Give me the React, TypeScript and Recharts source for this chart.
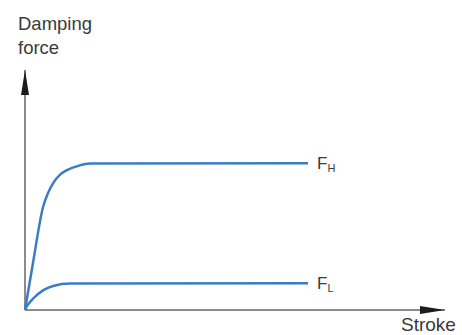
import { LineChart, Line, XAxis, YAxis, ReferenceLine, ReferenceDot, LabelList } from 'recharts';

// stroke (0-100) vs damping force (0-100)
const highStroke = [0, 1.9, 4.3, 5.5, 6.7, 8.3, 10.0, 12.6, 15.5, 67.4];
const highForce = [0, 19.6, 42.9, 48.8, 52.9, 56.3, 58.3, 60.0, 61.0, 61.1];
const lowStroke = [0, 0.5, 2.0, 4.4, 6.7, 10.7, 67.4];
const lowForce = [0, 1.7, 4.9, 8.3, 10.0, 11.0, 11.1];

const highData = highStroke.map((x, i) => ({ x, y: highForce[i] }));
const lowData = lowStroke.map((x, i) => ({ x, y: lowForce[i] }));

const FONT = '"Liberation Sans", Arial, sans-serif';
const TEXT = '#3a3a3a';
const BLUE = '#3b7cc2';
const AXIS = '#8c8c8c';

const endLabel = (sub: string, count: number) => (props: any) => {
    if (props.index !== count - 1) return null;
    return (
        <text x={props.x + 9} y={props.y + 6} fontFamily={FONT} fontSize={17} fill={TEXT}>
            F<tspan dy={3} fontSize={11}>{sub}</tspan>
        </text>
    );
};

const xArrow = (props: any) => {
    const { cx, cy } = props;
    return <polygon points={`${cx},${cy} ${cx - 25},${cy - 4} ${cx - 25},${cy + 4}`} fill="#1c1c1c" />;
};

const yArrow = (props: any) => {
    const { cx, cy } = props;
    return <polygon points={`${cx},${cy} ${cx - 4},${cy + 25} ${cx + 4},${cy + 25}`} fill="#1c1c1c" />;
};

export default function App() {
    return (
        <div style={{ position: 'absolute', left: 0, top: 0, width: 462, height: 335, background: '#fff', fontFamily: FONT, color: TEXT }}>
            <div style={{ position: 'absolute', left: 18, top: 12, fontSize: 18.5, lineHeight: '24px' }}>
                Damping<br />force
            </div>
            <div style={{ position: 'absolute', left: 401, top: 314, fontSize: 19, lineHeight: '22px' }}>
                Stroke
            </div>
            <LineChart width={462} height={335} margin={{ top: 70, right: 17, bottom: 25, left: 25 }}>
                <XAxis type="number" dataKey="x" domain={[0, 100]} hide />
                <YAxis type="number" dataKey="y" domain={[0, 100]} hide />
                <ReferenceLine y={0} stroke={AXIS} strokeWidth={2} />
                <ReferenceLine x={0} stroke={AXIS} strokeWidth={2} />
                <ReferenceDot x={100} y={0} r={0} shape={xArrow} ifOverflow="visible" />
                <ReferenceDot x={0} y={100} r={0} shape={yArrow} ifOverflow="visible" />
                <Line data={highData} dataKey="y" type="monotone" stroke={BLUE} strokeWidth={2.5} dot={false} isAnimationActive={false}>
                    <LabelList dataKey="y" content={endLabel('H', highData.length)} />
                </Line>
                <Line data={lowData} dataKey="y" type="monotone" stroke={BLUE} strokeWidth={2.5} dot={false} isAnimationActive={false}>
                    <LabelList dataKey="y" content={endLabel('L', lowData.length)} />
                </Line>
            </LineChart>
        </div>
    );
}
